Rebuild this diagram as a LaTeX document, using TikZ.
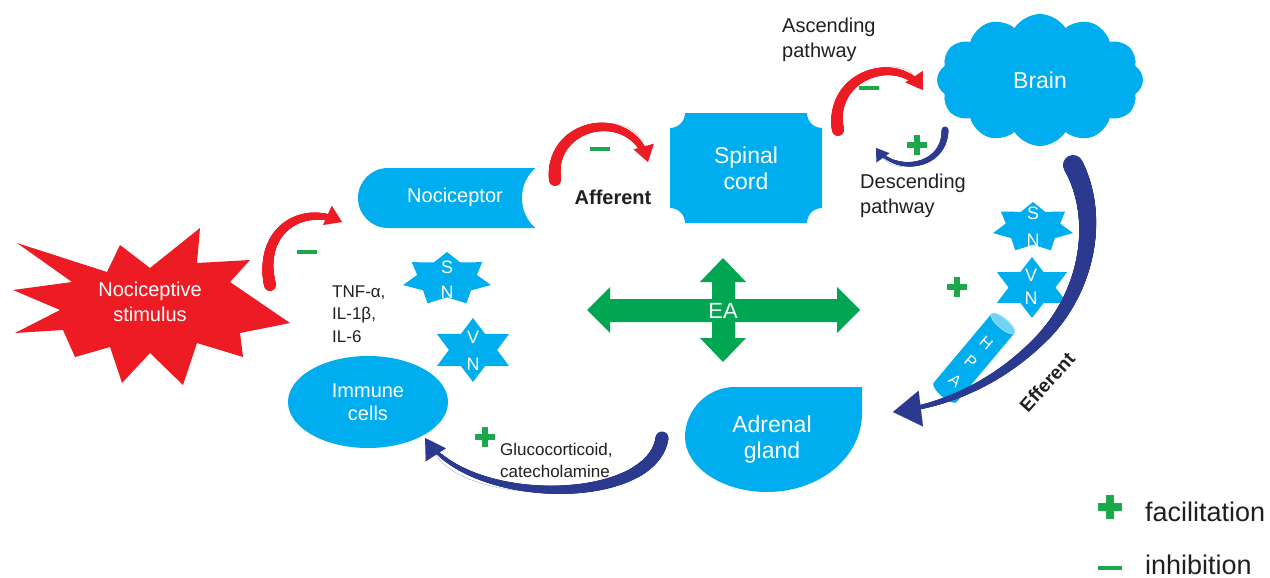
\documentclass[tikz,border=0pt]{standalone}
\usepackage{fontspec}
\setmainfont{Liberation Sans}
\usetikzlibrary{shapes.symbols,shapes.geometric,decorations.markings,arrows.meta}
\definecolor{cyanc}{HTML}{00AEEF}
\definecolor{cyanl}{HTML}{6FD3F7}
\definecolor{redc}{HTML}{ED1C24}
\definecolor{greenc}{HTML}{00A651}
\definecolor{pgreen}{HTML}{1BA84A}
\definecolor{navy}{HTML}{2B3A8F}
\definecolor{txt}{HTML}{231F20}
\tikzset{
  wlabel/.style={text=white, align=center, inner sep=0pt},
  klabel/.style={text=txt, align=left, inner sep=0pt},
  taper/.style n args={3}{%
    decoration={markings,
      mark=between positions 0 and 0.95 step 0.6pt with {%
        \pgfmathsetmacro\tw{#2+(#3-#2)*\pgfkeysvalueof{/pgf/decoration/mark info/distance from start}/\pgfdecoratedpathlength}%
        \fill[#1] (0,0) circle[radius=\tw pt];}
    },
    decorate},
  tiponly/.style n args={3}{draw=#1, line width=0.05pt, -{Triangle[length=#2pt,width=#3pt]}, #1},
  plusmark/.pic={\fill[pgreen] (-10,-3.2) rectangle (10,3.2); \fill[pgreen] (-3.2,-10) rectangle (3.2,10);},
  minusmark/.pic={\fill[pgreen] (-10,-2) rectangle (10,2);}
}
\newcommand\starpoly[7]{%
  \fill[cyanc] plot[samples at={0,...,#7}, variable=\k]
   ({#1+#3*(mod(\k,2)==0 ? 1 : #6)*cos(90+\k*180/#5)},
    {#2-#4*(mod(\k,2)==0 ? 1 : #6)*sin(90+\k*180/#5)}) -- cycle;}
\begin{document}
\begin{tikzpicture}[x=1pt,y=-1pt]
\fill[white] (0,0) rectangle (1270,578);
\useasboundingbox (0,0) rectangle (1270,578);

% nociceptive stimulus burst
\fill[redc] (13,290) -- (72,282) -- (17,243) -- (107,272) -- (120,245) -- (150,268)
  -- (200,228) -- (197,263) -- (250,260) -- (230,282) -- (290,323) -- (240,333)
  -- (243,357) -- (197,343) -- (183,385) -- (150,353) -- (122,383) -- (110,347)
  -- (75,357) -- (63,330) -- (15,333) -- (60,310) -- cycle;
\node[wlabel, font=\fontsize{20}{25}\selectfont] (stim) at (150,302) {Nociceptive\\stimulus};

% nociceptor
\fill[cyanc] (388,168) -- (560,168) -- (560,228) -- (388,228) arc[start angle=90,end angle=270,radius=30] -- cycle;
\fill[white] (562,198) circle[radius=40];
\node[wlabel, font=\fontsize{20}{24}\selectfont] (noci) at (455,197) {Nociceptor};
\node[klabel, font=\fontsize{20}{24}\selectfont\bfseries] (aff) at (613,197) {Afferent};

% spinal cord
\fill[cyanc] (685,113) -- (807,113) arc[start angle=180,end angle=90,radius=15]
  -- (822,208) arc[start angle=270,end angle=180,radius=15]
  -- (685,223) arc[start angle=0,end angle=-90,radius=15]
  -- (670,128) arc[start angle=90,end angle=0,radius=15] -- cycle;
\node[wlabel, font=\fontsize{23}{26}\selectfont] (spinal) at (746,168) {Spinal\\cord};

% brain
\node[cloud, cloud puffs=12, cloud puff arc=115, aspect=1.6, fill=cyanc, inner sep=0pt,
  minimum width=206pt, minimum height=132pt, wlabel, font=\fontsize{23}{26}\selectfont] (brain) at (1040,80) {Brain};

\node[klabel, anchor=west, font=\fontsize{20}{25}\selectfont] (asc) at (782,40) {Ascending\\pathway};
\node[klabel, anchor=west, font=\fontsize{20}{25}\selectfont] (desc) at (860,196) {Descending\\pathway};

% EA arrow
\fill[greenc] (587,310) -- (610,287) -- (610,299) -- (712,299) -- (712,282) -- (700,282)
  -- (723,258) -- (746,282) -- (735,282) -- (735,299) -- (837,299) -- (837,287)
  -- (860,310) -- (837,333) -- (837,322) -- (735,322) -- (735,338) -- (746,338)
  -- (723,362) -- (700,338) -- (712,338) -- (712,322) -- (610,322) -- (610,333) -- cycle;
\node[wlabel, font=\fontsize{22}{26}\selectfont] (ea) at (723,311) {EA};

% immune cells
\node[ellipse, fill=cyanc, minimum width=160pt, minimum height=92pt, wlabel,
  font=\fontsize{20}{23}\selectfont] (immune) at (368,402) {Immune\\cells};

% adrenal gland
\fill[cyanc] (862,387) -- (862,413) .. controls (862,457) and (820,492) .. (767,492)
  .. controls (722,492) and (685,467) .. (685,437)
  .. controls (685,410) and (707,387) .. (735,387) -- cycle;
\node[wlabel, font=\fontsize{23}{26}\selectfont] (adrenal) at (772,440) {Adrenal\\gland};

% stars
\starpoly{447}{279}{45}{27}{7}{0.68}{13}
\node[wlabel, font=\fontsize{18}{25}\selectfont] (sn1) at (447,280) {S\\N};
\starpoly{473}{350}{41.6}{32}{6}{0.58}{11}
\node[wlabel, font=\fontsize{18}{27}\selectfont] (vn1) at (473,351) {V\\N};
\starpoly{1033}{227.4}{41}{25.4}{7}{0.68}{13}
\node[wlabel, font=\fontsize{18}{27}\selectfont] (sn2) at (1033,227) {S\\N};
\starpoly{1032}{287.5}{40.4}{30.5}{6}{0.58}{11}
\node[wlabel, font=\fontsize{18}{23}\selectfont] (vn2) at (1031,287) {V\\N};

% HPA cylinder
\begin{scope}[shift={(974,358)}, rotate=-40]
  \fill[cyanc] (-15,-45) -- (-15,45) arc[start angle=180,end angle=0,x radius=15,y radius=5]
    -- (15,-45) arc[start angle=0,end angle=-180,x radius=15,y radius=5] -- cycle;
  \fill[cyanl] (0,-45) ellipse[x radius=15,y radius=5];
  \draw[white!60!cyanc, line width=0.8pt] (0,-45) ellipse[x radius=15,y radius=5];
  \node[wlabel, transform shape, font=\fontsize{16}{18}\selectfont] (hpah) at (0,-19) {H};
  \node[wlabel, transform shape, font=\fontsize{16}{18}\selectfont] (hpap) at (0,5) {P};
  \node[wlabel, transform shape, font=\fontsize{16}{18}\selectfont] (hpaa) at (0,29) {A};
\end{scope}

% text labels
\node[klabel, anchor=west, font=\fontsize{17}{22.5}\selectfont] (tnf) at (332,314) {TNF-α,\\IL-1β,\\IL-6};
\node[klabel, anchor=west, font=\fontsize{17}{22}\selectfont] (gluc) at (500,460) {Glucocorticoid,\\catecholamine};
\node[klabel, rotate=48, font=\fontsize{19}{22}\selectfont\bfseries] (eff) at (1047,382) {Efferent};

% curved arrows
\coordinate (r1s) at (270,285); \coordinate (r1e) at (342,222);
\coordinate (r2s) at (555,180); \coordinate (r2e) at (648,162);
\coordinate (r3s) at (838,130); \coordinate (r3e) at (923,90);
\coordinate (b1s) at (945,130); \coordinate (b1e) at (876,148);
\coordinate (b2s) at (662,438); \coordinate (b2e) at (425,438);
\coordinate (b3s) at (1073,165); \coordinate (b3m) at (1040,340); \coordinate (b3e) at (893,412);
\path[taper={redc}{6}{3}] (r1s) .. controls (258,232) and (300,203) .. (r1e);
\draw[tiponly={redc}{16}{21}] (r1s) .. controls (258,232) and (300,203) .. (r1e);
\path[taper={redc}{6}{3}] (r2s) .. controls (548,122) and (632,105) .. (r2e);
\draw[tiponly={redc}{16}{21}] (r2s) .. controls (548,122) and (632,105) .. (r2e);
\path[taper={redc}{6}{3}] (r3s) .. controls (828,75) and (898,52) .. (r3e);
\draw[tiponly={redc}{16}{21}] (r3s) .. controls (828,75) and (898,52) .. (r3e);
\path[taper={navy}{3.5}{1.5}] (b1s) .. controls (945,168) and (895,175) .. (b1e);
\draw[tiponly={navy}{12}{16}] (b1s) .. controls (945,168) and (895,175) .. (b1e);
\path[taper={navy}{6.5}{1.5}] (b2s) .. controls (652,506) and (470,508) .. (b2e);
\draw[tiponly={navy}{20}{24}] (b2s) .. controls (652,506) and (470,508) .. (b2e);
\path[taper={navy}{10}{1.5}] (b3s) .. controls (1100,215) and (1090,290) .. (b3m)
  .. controls (1000,380) and (950,405) .. (b3e);
\draw[tiponly={navy}{28}{36}] (b3m) .. controls (1000,380) and (950,405) .. (b3e);

% plus / minus marks
\pic at (307,252) {minusmark};
\pic at (600,149) {minusmark};
\pic at (869,88) {minusmark};
\pic at (917,145) {plusmark};
\pic at (957,287) {plusmark};
\pic at (485,437) {plusmark};

% legend
\pic[scale=1.2] at (1110,507) {plusmark};
\pic[scale=1.2] at (1110,568) {minusmark};
\node[klabel, anchor=west, font=\fontsize{27}{30}\selectfont] (fac) at (1145,512) {facilitation};
\node[klabel, anchor=west, font=\fontsize{27}{30}\selectfont] (inh) at (1145,565) {inhibition};
\end{tikzpicture}
\end{document}
